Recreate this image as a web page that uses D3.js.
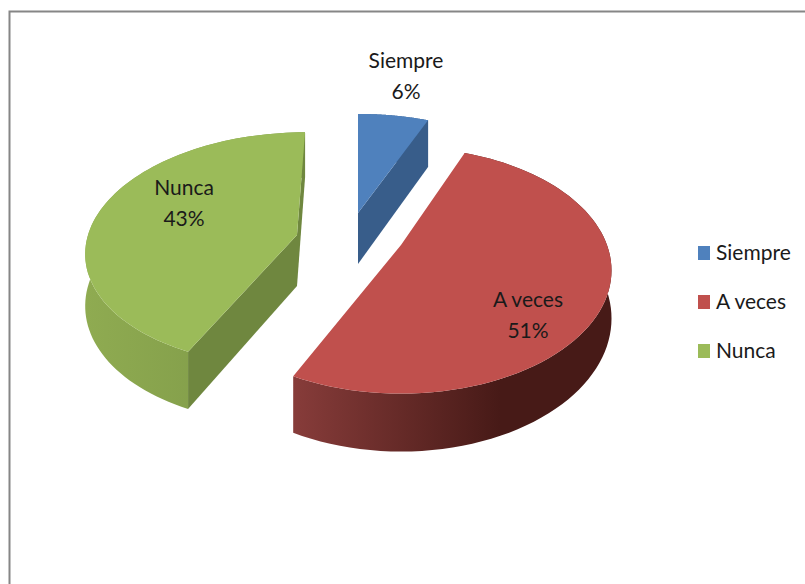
<!DOCTYPE html>
<html>
<head>
<meta charset="utf-8">
<script src="https://cdn.jsdelivr.net/npm/d3@7"></script>
<style>
  html, body { margin: 0; padding: 0; background: #fff; overflow: hidden; }
  text { font-family: Lato, "Open Sans", sans-serif; fill: #1a1a1a; }
</style>
</head>
<body>
<svg id="chart" width="805" height="584"></svg>
<script>
"use strict";

var categories = ['Siempre', 'A veces', 'Nunca'];
var percents = [6, 51, 43];

var top_colors = ['#4f81bd', '#c0504d', '#9bbb59'];
var cut_colors = ['#385d8a', '#8a3a37', '#6f873f'];
var wall_colors = [
  ['#3f6797', '#385d8a'],
  ['#873c3a', '#471a17'],
  ['#8fab51', '#7b9646'],
];

// each exploded slice has its own apex and its own flattening
var apex_x = [358, 401, 297];
var apex_y = [213, 245, 235];
var radius_x = [208, 206, 209];
var radius_y = [109, 118, 115];
var persp = [0.1, 0.206, 0.12];
var shear = [0, 0, 9];
var depth = [51, 46, 51];

var svg = d3.select('#chart');
var defs = svg.append('defs');
var line = d3.line();
var pie = d3.pie().sort(null)(percents);

function rim(i, a, z) {
  const s = 1 / (1 + persp[i] * Math.cos(a));
  return [
    apex_x[i] + (radius_x[i] * Math.sin(a) + shear[i] * Math.cos(a)) * s,
    apex_y[i] + (-radius_y[i] * Math.cos(a) + depth[i] * z) * s,
  ];
}

function rim_points(d, i, z) {
  const n = 80;
  return d3.range(n + 1).map(k => rim(i, d.startAngle + (d.endAngle - d.startAngle) * k / n, z));
}

function cut_wall(i, a) {
  return line([
    [apex_x[i], apex_y[i]],
    rim(i, a, 0),
    rim(i, a, 1),
    [apex_x[i], apex_y[i] + depth[i]],
  ]) + 'Z';
}

function top_face(d, i) {
  return line([[apex_x[i], apex_y[i]]].concat(rim_points(d, i, 0))) + 'Z';
}

function outer_wall(d, i) {
  return line(rim_points(d, i, 0).concat(rim_points(d, i, 1).reverse())) + 'Z';
}

pie.forEach(function (d, i) {
  const xs = rim_points(d, i, 1).map(p => p[0]);
  const grad = defs.append('linearGradient')
    .attr('id', 'wall' + i)
    .attr('gradientUnits', 'userSpaceOnUse')
    .attr('x1', d3.min(xs))
    .attr('x2', d3.max(xs))
    .attr('y1', 0)
    .attr('y2', 0);
  grad.append('stop').attr('offset', '0%').attr('stop-color', wall_colors[i][0]);
  grad.append('stop').attr('offset', i == 1 ? '65%' : '100%').attr('stop-color', wall_colors[i][1]);
});

// walls first, top faces over them
var plot = svg.append('g');
pie.forEach(function (d, i) {
  const g = plot.append('g');
  g.append('path').attr('d', outer_wall(d, i)).attr('fill', 'url(#wall' + i + ')');
  if (i == 0) g.append('path').attr('d', cut_wall(i, d.endAngle)).attr('fill', cut_colors[i]);
  if (i == 2) {
    g.append('path').attr('d', cut_wall(i, d.startAngle)).attr('fill', cut_colors[i]);
    g.append('path').attr('d', cut_wall(i, d.endAngle)).attr('fill', cut_colors[i]);
  }
  g.append('path').attr('d', top_face(d, i)).attr('fill', top_colors[i]);
});

// data labels
var label_x = [406, 528, 184];
var label_y = [61, 300, 188];
categories.forEach(function (c, i) {
  const t = svg.append('text')
    .attr('text-anchor', 'middle')
    .style('font-size', '21px');
  t.append('tspan').attr('x', label_x[i]).attr('y', label_y[i] + 7).text(c);
  t.append('tspan').attr('x', label_x[i]).attr('y', label_y[i] + 38).text(percents[i] + '%');
});

// legend
var legend_y = d3.scalePoint().domain(categories).range([253, 351]);
categories.forEach(function (c, i) {
  svg.append('rect')
    .attr('x', 698).attr('y', legend_y(c) - 7)
    .attr('width', 12).attr('height', 14)
    .attr('fill', top_colors[i]);
  svg.append('text')
    .attr('x', 716).attr('y', legend_y(c) + 7)
    .style('font-size', '21px')
    .text(c);
});

// chart frame, runs off the page on the right and the bottom
svg.append('path')
  .attr('d', 'M9.5,584V11.5H805')
  .attr('fill', 'none')
  .attr('stroke', '#868686')
  .attr('stroke-width', 2);
</script>
</body>
</html>
